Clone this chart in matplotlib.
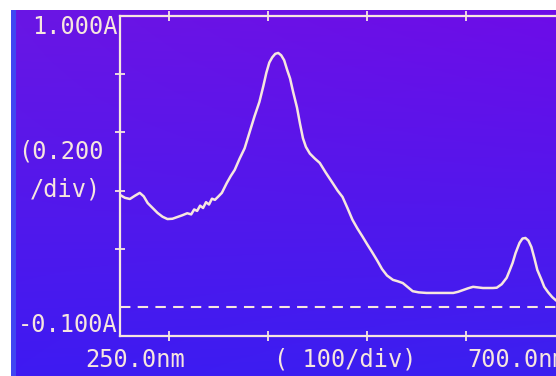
import matplotlib.pyplot as plt
import numpy as np

# spectrum (nm, absorbance)
wavelength = [250, 255, 260, 265, 270, 274, 278, 283, 288, 293, 298, 303, 308, 313, 318,
              322, 325, 328, 331, 334, 337, 340, 343, 346, 349, 353, 358, 362, 366, 371,
              376, 381, 386, 391, 395, 398, 401, 404, 407, 410, 413, 416, 419, 422, 425,
              429, 432, 435, 438, 442, 447, 452, 458, 465, 470, 475, 480, 485, 490, 495,
              500, 505, 510, 515, 520, 526, 531, 536, 541, 546, 552, 560, 570, 580, 587,
              592, 597, 602, 607, 612, 617, 622, 627, 631, 636, 641, 644, 647, 650, 654,
              657, 660, 663, 666, 669, 672, 676, 679, 683, 687, 691, 695, 700]
absorbance = [0.385, 0.375, 0.371, 0.382, 0.392, 0.380, 0.357, 0.340, 0.323, 0.310, 0.302,
              0.303, 0.309, 0.315, 0.322, 0.318, 0.335, 0.330, 0.348, 0.340, 0.360, 0.352,
              0.372, 0.368, 0.378, 0.392, 0.426, 0.450, 0.471, 0.510, 0.545, 0.600, 0.655,
              0.705, 0.760, 0.805, 0.840, 0.858, 0.870, 0.873, 0.865, 0.848, 0.815, 0.785,
              0.740, 0.685, 0.630, 0.580, 0.550, 0.527, 0.510, 0.495, 0.462, 0.426, 0.400,
              0.378, 0.340, 0.300, 0.270, 0.243, 0.215, 0.188, 0.160, 0.130, 0.108, 0.093,
              0.088, 0.082, 0.068, 0.054, 0.050, 0.048, 0.048, 0.048, 0.048, 0.052, 0.058,
              0.064, 0.069, 0.067, 0.065, 0.065, 0.065, 0.066, 0.078, 0.100, 0.125, 0.151,
              0.185, 0.220, 0.235, 0.237, 0.228, 0.206, 0.168, 0.127, 0.095, 0.069, 0.050,
              0.034, 0.022, 0.015, 0.010]

x_ticks = [300, 400, 500, 600]
y_ticks = [0.2, 0.4, 0.6, 0.8]

W, H = 556, 376
ink = '#f7e6df'
mono = 'DejaVu Sans Mono'

def fx(px):
    return px / W

def fy(py):
    return 1 - py / H

fig = plt.figure(figsize=(W / 100, H / 100), dpi=100, facecolor='white')

# screen background: violet at the top, bluer towards the bottom
bg = fig.add_axes([fx(11), 0, 1, fy(10)])
tl = np.array([106, 22, 228]) / 255
tr = np.array([110, 12, 232]) / 255
bl = np.array([62, 26, 242]) / 255
br = np.array([58, 32, 240]) / 255
u = np.linspace(0, 1, W)[None, :, None]
v = np.linspace(0, 1, H)[:, None, None]
img = (1 - v) * ((1 - u) * tl + u * tr) + v * ((1 - u) * bl + u * br)
img[:, :5] = np.array([64, 70, 242]) / 255
bg.imshow(img, aspect='auto', interpolation='nearest')
bg.set_axis_off()

ax = fig.add_axes([fx(120), fy(336), fx(565) - fx(120), fy(16) - fy(336)])
ax.patch.set_alpha(0)
ax.plot(wavelength, absorbance, color=ink, lw=1.8)
ax.axhline(0, color=ink, lw=1.5, ls=(0, (5, 3.5)))
ax.set_xlim(250, 700)
ax.set_ylim(-0.1, 1.0)
ax.set_xticks(x_ticks)
ax.set_yticks(y_ticks)
ax.tick_params(direction='inout', length=7, width=1.3, color=ink,
               labelbottom=False, labelleft=False, top=True, right=True)
for s in ax.spines.values():
    s.set_color(ink)
    s.set_linewidth(1.6)

fs = 17
fig.text(fx(118), fy(27), '1.000A', ha='right', va='center', color=ink, fontsize=fs, family=mono)
fig.text(fx(18), fy(152), '(0.200', ha='left', va='center', color=ink, fontsize=fs, family=mono)
fig.text(fx(30), fy(190), '/div)', ha='left', va='center', color=ink, fontsize=fs, family=mono)
fig.text(fx(118), fy(325), '-0.100A', ha='right', va='center', color=ink, fontsize=fs, family=mono)
fig.text(fx(85), fy(360), '250.0nm', ha='left', va='center', color=ink, fontsize=fs, family=mono)
fig.text(fx(274), fy(360), '( 100/div)', ha='left', va='center', color=ink, fontsize=fs, family=mono)
fig.text(fx(467), fy(360), '700.0nm', ha='left', va='center', color=ink, fontsize=fs, family=mono)

fig.savefig('out.png', dpi=100, facecolor='white')
